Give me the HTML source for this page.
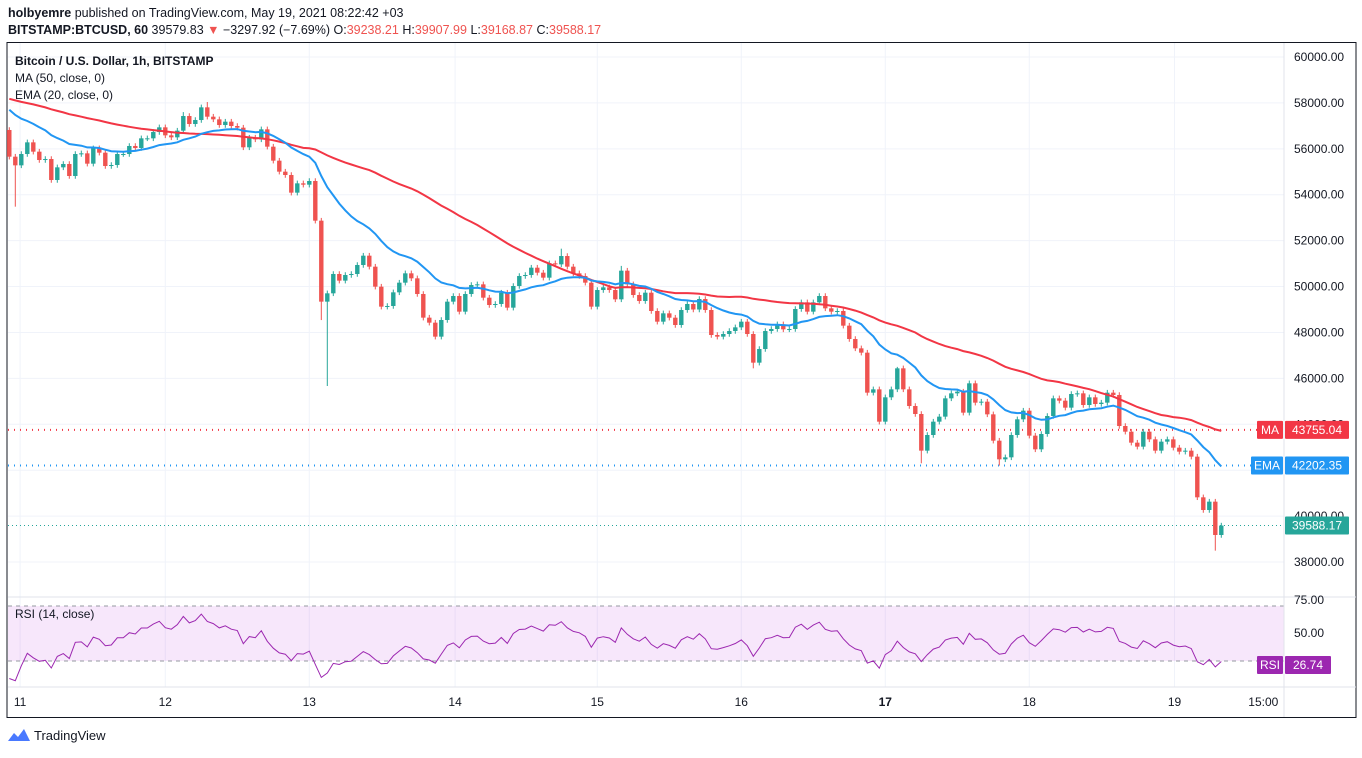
<!DOCTYPE html>
<html><head><meta charset="utf-8">
<style>
html,body{margin:0;padding:0;background:#fff;}
body{width:1362px;height:753px;overflow:hidden;font-family:"Liberation Sans",sans-serif;}
svg text{font-family:"Liberation Sans",sans-serif;}
</style></head>
<body>
<svg id="chart" width="1362" height="753" viewBox="0 0 1362 753" xmlns="http://www.w3.org/2000/svg">
  <text x="8" y="17" font-size="12.5" fill="#131722"><tspan font-weight="bold">holbyemre</tspan> published on TradingView.com, May 19, 2021 08:22:42 +03</text>
  <text x="8" y="34" font-size="12.5" fill="#131722"><tspan font-weight="bold">BITSTAMP:BTCUSD, 60</tspan> 39579.83 <tspan fill="#ef5350">▼</tspan> −3297.92 (−7.69%) O:<tspan fill="#ef5350">39238.21</tspan> H:<tspan fill="#ef5350">39907.99</tspan> L:<tspan fill="#ef5350">39168.87</tspan> C:<tspan fill="#ef5350">39588.17</tspan></text>
  <rect x="7" y="42.5" width="1349" height="675" fill="none" stroke="#131722" stroke-width="1"/>
  <g id="grid"></g>
  <rect x="8" y="606" width="1276" height="55" fill="#c957e0" fill-opacity="0.14"/>
  <line x1="8" x2="1284" y1="606" y2="606" stroke="#9598a1" stroke-dasharray="4,4"/>
  <line x1="8" x2="1284" y1="661" y2="661" stroke="#9598a1" stroke-dasharray="4,4"/>
  <line x1="8" x2="1356" y1="597" y2="597" stroke="#e0e3eb"/>
  <line x1="1284" x2="1284" y1="43" y2="717" stroke="#e0e3eb"/>
  <line x1="8" x2="1356" y1="687" y2="687" stroke="#e0e3eb"/>
  <g id="marks"></g>
  <g id="labels"></g>
  <text x="15" y="65" font-size="12" font-weight="bold" fill="#131722">Bitcoin / U.S. Dollar, 1h, BITSTAMP</text>
  <text x="15" y="82" font-size="12" fill="#131722">MA (50, close, 0)</text>
  <text x="15" y="99" font-size="12" fill="#131722">EMA (20, close, 0)</text>
  <text x="15" y="618" font-size="12" fill="#131722">RSI (14, close)</text>
  <g>
    <path d="M8 741 L14 733 L18 737 L24 729 L30 741 Z" fill="#2962ff" opacity="0.85"/>
    <text x="34" y="740" font-size="13" fill="#131722">TradingView</text>
  </g>
</svg>
<script>
const priorCloses=[58900,58950,58800,58850,58700,58900,58750,58600,58700,58650,58500,58600,58450,58550,58400,58500,58350,58450,58300,58400,58250,58300,58150,58250,58100,58200,58050,58150,58000,58100,57950,58050,57900,58000,57850,57950,57800,57900,57750,57850,57700,57800,57750,57850,57900,57950,57900,57850,57800];
const firstOpen=56820;
const closes=[55658,55280,55774,56282,55876,55513,55556,54642,55193,55339,54816,55774,55803,55353,56021,55832,55251,55295,55774,55774,
56123,56036,56457,56457,56732,56936,56587,56500,56791,57429,57081,57255,57807,57400,57284,57037,57183,56994,56921,56065,
56486,56413,56849,56094,55484,55005,54859,54090,54496,54438,54598,52870,49342,49705,50547,50257,50503,50547,50939,51345,
50866,49995,49124,49153,49748,50169,50576,50358,49676,48645,48427,47817,48543,49342,49588,48906,49675,50067,50096,49515,
49196,49240,49733,49080,50024,50459,50503,50822,50604,50387,51011,50967,51330,50866,50575,50459,50169,49124,49849,49966,
49849,49443,50692,50096,49632,49370,49733,48935,48470,48833,48644,48325,48978,49240,49000,49457,48978,47889,47817,47933,
48063,48223,48470,47933,46684,47279,48063,48151,48354,48136,48151,49022,49312,48906,49312,49588,49051,48906,48935,48296,
47715,47308,47120,45377,45522,44114,45174,45522,46437,45522,44796,44448,42851,43533,44114,44332,45130,45348,45421,44506,
45784,44942,44985,44433,43286,42473,42560,43533,44216,44593,43504,42909,43577,44361,45130,45029,44724,45319,45348,44840,
45174,44884,44942,45377,45276,43925,43678,43199,43025,43678,43344,42851,43243,43344,42981,42807,42851,42590,40818,40266,
40629,39177,39588];
const wickLowIdx=[1,52,53,124,143,152,165,201,198];
const wickLowVal=[53480,48540,45668,46437,45250,42300,42200,38495,40700];
const wickHighIdx=[33,29,92,102,148];
const wickHighVal=[58039,57600,51650,50900,46500];
const priceTicks=[60000,58000,56000,54000,52000,50000,48000,46000,44000,42000,40000,38000];
const dayLabels=["11","12","13","14","15","16","17","18","19","15:00"];
const dayIdx=[1.8,26,50,74.3,98,122,146,170,194.2,209];
const maLast=43755.04, emaLast=42202.35, lastClose=39588.17, rsiLast=26.74;

const NS="http://www.w3.org/2000/svg";
function yP(p){return 57+(60000-p)*0.022955;}
function xI(i){return 9.3+i*6;}
function yR(v){return 633-(v-50)*1.32;}
function mk(tag,attrs,parent){const e=document.createElementNS(NS,tag);for(const k in attrs)e.setAttribute(k,attrs[k]);parent.appendChild(e);return e;}
const grid=document.getElementById('grid'),marks=document.getElementById('marks'),labels=document.getElementById('labels');

priceTicks.forEach(p=>{
  const g=mk('line',{x1:8,x2:1284,y1:yP(p),y2:yP(p),stroke:'#f0f3fa'},grid);
  
  
  const t=mk('text',{x:1294,y:yP(p)+4,'font-size':12,fill:'#131722'},labels);
  t.textContent=p.toFixed(2);
  
  
});
[[75,600],[50,633],[25,666]].forEach(a=>{
  const t=mk('text',{x:1294,y:a[1]+4,'font-size':12,fill:'#131722'},labels);
  t.textContent=a[0].toFixed(2);
  
  
});
dayLabels.forEach((d,k)=>{
  const x=xI(dayIdx[k]);
  if(k<dayLabels.length-1){const g=mk('line',{x1:x,x2:x,y1:43,y2:687,stroke:'#f0f3fa'},grid);
  
  }
  const t=mk('text',{x:x,y:706,'font-size':12,fill:'#131722','text-anchor':'middle','font-weight':d==="17"?'bold':'normal'},labels);
  t.textContent=d;
  
  
});

const all=priorCloses.concat(closes);const P=priorCloses.length;
const ma=[],ema=[],rsi=[];
let e=all[0];
let ag=0,al=0;
for(let i=0;i<all.length;i++){
  e = i===0?all[0]:(all[i]*2/21+e*19/21);
  if(i>0){const d=all[i]-all[i-1];const g=Math.max(d,0),l=Math.max(-d,0);
    if(i<=14){ag+=g/14;al+=l/14;}else{ag=(ag*13+g)/14;al=(al*13+l)/14;}}
  if(i>=P){
    const s=all.slice(Math.max(0,i-49),i+1);
    ma.push(s.reduce((a,b)=>a+b,0)/s.length);
    ema.push(e);
    rsi.push(al===0?100:100-100/(1+ag/al));
  }
}

[[maLast,'#f23645','ma-level-line','1,5',2],[emaLast,'#2196f3','ema-level-line','1,5',2],[lastClose,'#26a69a','last-price-line','1,3',1]].forEach(a=>{
  const l=mk('line',{x1:8,x2:1284,y1:yP(a[0]),y2:yP(a[0]),stroke:a[1],'stroke-dasharray':a[3],'stroke-width':a[4]},marks);
  
  
});

closes.forEach((c,i)=>{
  const o=i===0?firstOpen:closes[i-1];
  let hi=Math.max(o,c)+120,lo=Math.min(o,c)-120;
  const hk=wickHighIdx.indexOf(i);if(hk>=0)hi=wickHighVal[hk];
  const lk=wickLowIdx.indexOf(i);if(lk>=0)lo=wickLowVal[lk];
  const col=c>=o?'#26a69a':'#ef5350';const x=xI(i);
  const g=mk('g',{},marks);
  
  
  mk('line',{x1:x,x2:x,y1:yP(hi),y2:yP(lo),stroke:col,'stroke-width':1},g);
  const yt=yP(Math.max(o,c)),yb=yP(Math.min(o,c));
  mk('rect',{x:x-2.2,y:yt,width:4.4,height:Math.max(1,yb-yt),fill:col},g);
});

function pathOf(arr,fy){return arr.map((v,i)=>(i?'L':'M')+xI(i).toFixed(1)+' '+fy(v).toFixed(1)).join(' ');}
const maP=mk('path',{d:pathOf(ma,yP),fill:'none',stroke:'#f23645','stroke-width':2},marks);


const emaP=mk('path',{d:pathOf(ema,yP),fill:'none',stroke:'#2196f3','stroke-width':2},marks);


const rsiP=mk('path',{d:pathOf(rsi,yR),fill:'none',stroke:'#9c27b0','stroke-width':1},marks);



function badge(name,x,w,y,fill,txt){
  const g=mk('g',{},labels);
  
  
  mk('rect',{x:x,y:y-9,width:w,height:18,fill:fill,rx:1},g);
  const t=mk('text',{x:x+w/2,y:y+4,'font-size':12,fill:'#fff','text-anchor':'middle'},g);t.textContent=txt;
}
badge('ma-badge',1257,26,yP(maLast),'#f23645','MA');
badge('ma-value-badge',1285,64,yP(maLast),'#f23645',maLast.toFixed(2));
badge('ema-badge',1251,32,yP(emaLast),'#2196f3','EMA');
badge('ema-value-badge',1285,64,yP(emaLast),'#2196f3',emaLast.toFixed(2));
badge('last-price-badge',1285,64,yP(lastClose),'#26a69a',lastClose.toFixed(2));
badge('rsi-badge',1257,26,665,'#9c27b0','RSI');
badge('rsi-value-badge',1285,46,665,'#9c27b0',rsiLast.toFixed(2));
</script>
</body></html>
